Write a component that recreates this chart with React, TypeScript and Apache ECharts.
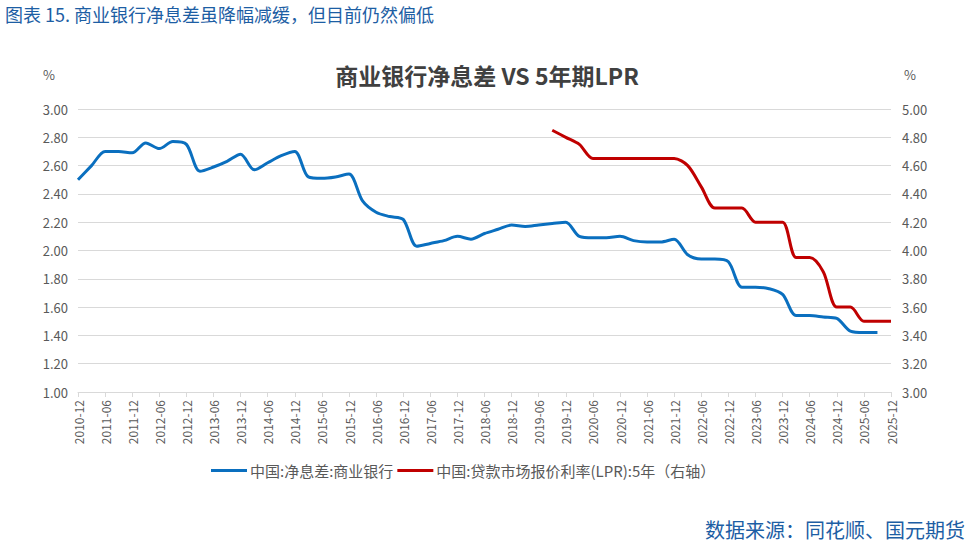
import React, { useEffect, useRef } from "react";
import * as echarts from "echarts";

const categories = [
  "2010-12", "2011-03", "2011-06", "2011-09", "2011-12",
  "2012-03", "2012-06", "2012-09", "2012-12",
  "2013-03", "2013-06", "2013-09", "2013-12",
  "2014-03", "2014-06", "2014-09", "2014-12",
  "2015-03", "2015-06", "2015-09", "2015-12",
  "2016-03", "2016-06", "2016-09", "2016-12",
  "2017-03", "2017-06", "2017-09", "2017-12",
  "2018-03", "2018-06", "2018-09", "2018-12",
  "2019-03", "2019-06", "2019-09", "2019-12",
  "2020-03", "2020-06", "2020-09", "2020-12",
  "2021-03", "2021-06", "2021-09", "2021-12",
  "2022-03", "2022-06", "2022-09", "2022-12",
  "2023-03", "2023-06", "2023-09", "2023-12",
  "2024-03", "2024-06", "2024-09", "2024-12",
  "2025-03", "2025-06", "2025-09", "2025-12",
];

// 中国:净息差:商业银行 (quarterly, from 2010-12)
const nimValues = [
  2.5, 2.6, 2.7, 2.7, 2.69,
  2.76, 2.72, 2.77, 2.75,
  2.56, 2.59, 2.63, 2.68,
  2.57, 2.62, 2.67, 2.7,
  2.52, 2.51, 2.52, 2.54,
  2.35, 2.27, 2.24, 2.22,
  2.03, 2.05, 2.07, 2.1,
  2.08, 2.12, 2.15, 2.18,
  2.17, 2.18, 2.19, 2.2,
  2.1, 2.09, 2.09, 2.1,
  2.07, 2.06, 2.06, 2.08,
  1.97, 1.94, 1.94, 1.92,
  1.74, 1.74, 1.73, 1.69,
  1.54, 1.54, 1.53, 1.52,
  1.43, 1.42, 1.42,
];

// 中国:贷款市场报价利率(LPR):5年 (quarterly, from 2019-09)
const lprStart = "2019-09";
const lprValues = [
  4.85, 4.8,
  4.75, 4.65, 4.65, 4.65,
  4.65, 4.65, 4.65, 4.65,
  4.6, 4.45, 4.3, 4.3,
  4.3, 4.2, 4.2, 4.2,
  3.95, 3.95, 3.85, 3.6,
  3.6, 3.5, 3.5, 3.5,
];

const leftTicks = { min: 1, max: 3, interval: 0.2 };
const rightTicks = { min: 3, max: 5, interval: 0.2 };

const seriesNames = ["中国:净息差:商业银行", "中国:贷款市场报价利率(LPR):5年（右轴）"];

export default function App() {
  const ref = useRef<HTMLDivElement>(null);

  useEffect(() => {
    if (!ref.current) return;
    const chart = echarts.init(ref.current, null, { renderer: "svg" });
    const startIdx = categories.indexOf(lprStart);
    const nimData = categories.map((_, i) => (i < nimValues.length ? nimValues[i] : null));
    const lprData = categories.map((_, i) =>
      i >= startIdx && i - startIdx < lprValues.length ? lprValues[i - startIdx] : null
    );
    const font = "'Noto Sans CJK SC', 'Noto Sans', sans-serif";
    const labelColor = "#595959";
    chart.setOption({
      animation: false,
      backgroundColor: "#ffffff",
      textStyle: { fontFamily: font },
      title: {
        text: "商业银行净息差 VS 5年期LPR",
        left: 482,
        top: 58,
        textAlign: "center",
        textStyle: { fontSize: 23, fontWeight: "bold", color: "#404040", fontFamily: font },
      },
      graphic: [
        {
          type: "text",
          left: 5,
          top: 5,
          style: {
            text: "图表 15. 商业银行净息差虽降幅减缓，但目前仍然偏低",
            fontSize: 18,
            fill: "#1d5ea4",
            fontFamily: font,
          },
        },
        {
          type: "text",
          right: 6,
          top: 519,
          style: {
            text: "数据来源：同花顺、国元期货",
            fontSize: 20,
            fill: "#1d5ea4",
            fontFamily: font,
          },
        },
        {
          type: "text",
          x: 49,
          y: 74,
          style: { text: "%", fontSize: 13, fill: labelColor, align: "center", verticalAlign: "middle", fontFamily: font },
        },
        {
          type: "text",
          x: 910,
          y: 74,
          style: { text: "%", fontSize: 13, fill: labelColor, align: "center", verticalAlign: "middle", fontFamily: font },
        },
      ],
      legend: {
        left: 211,
        top: 463,
        padding: 0,
        itemGap: 4,
        itemWidth: 36,
        itemHeight: 3,
        icon: "rect",
        textStyle: { fontSize: 15, color: labelColor, fontFamily: font, padding: [0, 0, 0, -2] },
        data: seriesNames,
      },
      grid: { left: 78, right: 80, top: 109, bottom: 153, containLabel: false },
      xAxis: {
        type: "category",
        data: categories,
        boundaryGap: false,
        axisLine: { lineStyle: { color: "#d9d9d9" } },
        axisTick: { interval: 1, length: 5, lineStyle: { color: "#d9d9d9" } },
        axisLabel: { interval: 1, rotate: 90, fontSize: 12, color: labelColor, margin: 8 },
        splitLine: { show: false },
      },
      yAxis: [
        {
          type: "value",
          ...leftTicks,
          axisLine: { show: false },
          axisTick: { show: false },
          axisLabel: { formatter: (v: number) => v.toFixed(2), fontSize: 13, color: labelColor, margin: 10 },
          splitLine: { lineStyle: { color: "#d9d9d9" } },
        },
        {
          type: "value",
          ...rightTicks,
          axisLine: { show: false },
          axisTick: { show: false },
          axisLabel: { formatter: (v: number) => v.toFixed(2), fontSize: 13, color: labelColor, margin: 11 },
          splitLine: { show: false },
        },
      ],
      series: [
        {
          name: seriesNames[0],
          type: "line",
          data: nimData,
          yAxisIndex: 0,
          smooth: 0.3,
          showSymbol: false,
          symbol: "none",
          connectNulls: false,
          lineStyle: { width: 3, color: "#0a6fbf" },
          itemStyle: { color: "#0a6fbf" },
        },
        {
          name: seriesNames[1],
          type: "line",
          data: lprData,
          yAxisIndex: 1,
          smooth: 0.3,
          showSymbol: false,
          symbol: "none",
          lineStyle: { width: 3, color: "#c00000" },
          itemStyle: { color: "#c00000" },
        },
      ],
    });
    return () => chart.dispose();
  }, []);

  return (
    <div
      ref={ref}
      style={{ position: "absolute", left: 0, top: 0, width: 971, height: 545 }}
    />
  );
}
